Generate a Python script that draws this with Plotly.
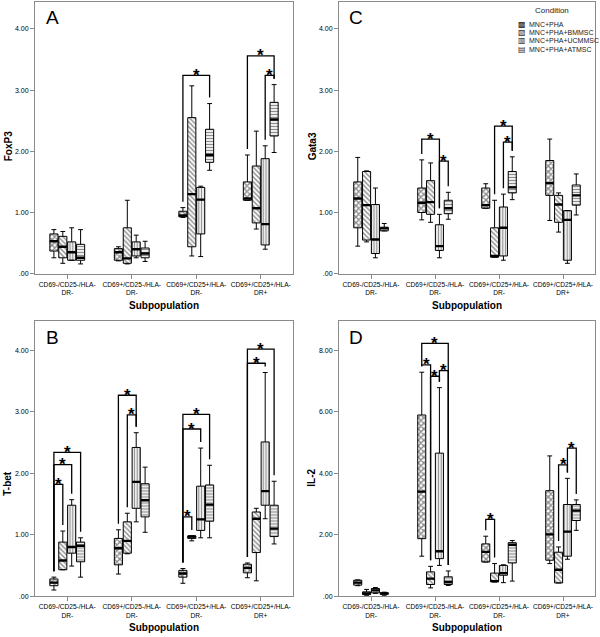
import plotly.graph_objects as go

W, H = 600, 637

SUBPOPS = ["CD69-/CD25-/HLA-<br>DR-", "CD69+/CD25-/HLA-<br>DR-",
           "CD69+/CD25+/HLA-<br>DR-", "CD69+/CD25+/HLA-<br>DR+"]
CONDITIONS = ["MNC+PHA", "MNC+PHA+BMMSC", "MNC+PHA+UCMMSC", "MNC+PHA+ATMSC"]
LEGEND_GLYPHS = ["\u25A9", "\u25A7", "\u25A5", "\u25A4"]
PATTERNS = ["x", "\\", "|", "-"]

# rows = conditions, columns = subpopulations
FOXP3_LO  = [[0.26, 0.21, 0.92, 1.20], [0.17, 0.16, 0.29, 0.73], [0.22, 0.26, 0.28, 0.40], [0.16, 0.20, 1.69, 1.98]]
FOXP3_Q1  = [[0.37, 0.22, 0.93, 1.20], [0.26, 0.17, 0.44, 0.83], [0.22, 0.29, 0.65, 0.47], [0.22, 0.26, 1.82, 2.25]]
FOXP3_MED = [[0.53, 0.35, 0.95, 1.23], [0.44, 0.25, 1.30, 1.07], [0.35, 0.40, 1.21, 0.81], [0.26, 0.33, 1.94, 2.52]]
FOXP3_Q3  = [[0.65, 0.41, 1.02, 1.50], [0.61, 0.75, 2.55, 1.76], [0.52, 0.52, 1.41, 1.88], [0.48, 0.42, 2.36, 2.80]]
FOXP3_HI  = [[0.72, 0.44, 1.08, 1.94], [0.69, 1.20, 3.07, 2.33], [0.75, 0.63, 1.43, 2.09], [0.72, 0.53, 2.78, 3.09]]

TBET_LO  = [[0.10, 0.36, 0.21, 0.30], [0.43, 0.69, 0.90, 0.25], [0.49, 1.21, 0.95, 1.26], [0.31, 1.04, 0.95, 0.85]]
TBET_Q1  = [[0.17, 0.51, 0.31, 0.38], [0.43, 0.70, 0.94, 0.71], [0.70, 1.43, 1.07, 1.48], [0.56, 1.29, 1.22, 0.97]]
TBET_MED = [[0.22, 0.78, 0.37, 0.46], [0.58, 0.90, 0.97, 1.26], [0.80, 1.86, 1.25, 1.71], [0.82, 1.56, 1.49, 1.10]]
TBET_Q3  = [[0.28, 0.94, 0.42, 0.52], [0.88, 1.21, 0.98, 1.37], [1.48, 2.42, 1.79, 2.51], [0.88, 1.83, 1.81, 1.48]]
TBET_HI  = [[0.31, 1.08, 0.45, 0.54], [1.06, 1.35, 0.98, 1.43], [1.57, 2.66, 2.41, 3.64], [0.95, 2.10, 2.13, 1.87]]

GATA3_LO  = [[0.45, 0.88, 1.07, 0.87], [0.52, 0.84, 0.27, 0.68], [0.26, 0.26, 0.22, 0.17], [0.70, 0.89, 1.21, 0.96]]
GATA3_Q1  = [[0.75, 1.00, 1.07, 1.28], [0.55, 0.97, 0.27, 0.84], [0.33, 0.38, 0.29, 0.22], [0.70, 0.98, 1.32, 1.12]]
GATA3_MED = [[1.23, 1.16, 1.12, 1.48], [1.12, 1.17, 0.29, 1.13], [0.56, 0.45, 0.75, 0.88], [0.74, 1.07, 1.41, 1.28]]
GATA3_Q3  = [[1.50, 1.40, 1.40, 1.85], [1.67, 1.52, 0.75, 1.28], [1.13, 0.80, 1.09, 1.03], [0.76, 1.20, 1.67, 1.45]]
GATA3_HI  = [[1.90, 1.86, 1.47, 2.20], [1.68, 1.81, 1.20, 1.32], [1.40, 0.97, 1.30, 1.03], [0.82, 1.33, 1.91, 1.63]]

IL2_LO  = [[0.34, 1.30, 1.11, 1.06], [0.03, 0.27, 0.46, 0.43], [0.09, 1.00, 0.44, 1.20], [0.03, 0.35, 0.49, 2.14]]
IL2_Q1  = [[0.36, 1.87, 1.11, 1.17], [0.05, 0.38, 0.47, 0.43], [0.11, 1.22, 0.68, 1.30], [0.06, 0.38, 1.08, 2.46]]
IL2_MED = [[0.44, 3.40, 1.44, 2.01], [0.09, 0.57, 0.49, 0.86], [0.19, 1.46, 0.75, 2.10], [0.09, 0.46, 1.67, 2.78]]
IL2_Q3  = [[0.52, 5.89, 1.70, 3.43], [0.14, 0.79, 0.75, 1.43], [0.25, 4.65, 1.00, 2.98], [0.11, 0.63, 1.74, 2.98]]
IL2_HI  = [[0.53, 7.28, 1.95, 4.56], [0.22, 0.97, 1.06, 1.60], [0.28, 6.78, 1.02, 3.83], [0.13, 0.82, 1.81, 3.13]]

# significance brackets: (subpopulation index, condition a, condition b, bracket height)
FOXP3_SIG = [(2, 0, 3, 3.24), (3, 0, 3, 3.56), (3, 2, 3, 3.24)]
TBET_SIG = [(0, 0, 3, 2.34), (0, 0, 2, 2.14), (0, 0, 1, 1.82), (1, 0, 2, 3.27), (1, 1, 2, 2.95),
            (2, 0, 3, 2.96), (2, 0, 2, 2.72), (2, 0, 1, 1.29), (3, 0, 3, 4.02), (3, 0, 2, 3.79)]
GATA3_SIG = [(1, 0, 2, 2.20), (1, 2, 3, 1.84), (2, 1, 3, 2.41), (2, 2, 3, 2.15)]
IL2_SIG = [(1, 0, 3, 8.22), (1, 0, 1, 7.52), (1, 1, 2, 7.15), (1, 2, 3, 7.33),
           (2, 0, 1, 2.50), (3, 1, 2, 4.27), (3, 2, 3, 4.81)]

Y_TICKS_4 = [0, 1, 2, 3, 4]
Y_TICKTEXT_4 = [".00", "1.00", "2.00", "3.00", "4.00"]
Y_TICKS_8 = [0, 2, 4, 6, 8]
Y_TICKTEXT_8 = [".00", "2.00", "4.00", "6.00", "8.00"]

FONT = "Arial, Liberation Sans, sans-serif"
STEP = 0.138      # spacing between boxes within a group (x units)
BOXW = 0.126      # box width (x units)
AXCOL = "#8a8a8a"

# panel layout in pixels: (left, right, top, bottom)
panels = [
    dict(name="A", ylabel="FoxP3", stats=(FOXP3_LO, FOXP3_Q1, FOXP3_MED, FOXP3_Q3, FOXP3_HI), sig=FOXP3_SIG,
         box=(35, 293, 2, 275), ymax=4.44, ticks=(Y_TICKS_4, Y_TICKTEXT_4), ylab_y=147, xlab_y=307),
    dict(name="C", ylabel="Gata3", stats=(GATA3_LO, GATA3_Q1, GATA3_MED, GATA3_Q3, GATA3_HI), sig=GATA3_SIG,
         box=(339, 595, 2, 275), ymax=4.44, ticks=(Y_TICKS_4, Y_TICKTEXT_4), ylab_y=147, xlab_y=307),
    dict(name="B", ylabel="T-bet", stats=(TBET_LO, TBET_Q1, TBET_MED, TBET_Q3, TBET_HI), sig=TBET_SIG,
         box=(35, 293, 323, 599), ymax=4.47, ticks=(Y_TICKS_4, Y_TICKTEXT_4), ylab_y=486, xlab_y=630),
    dict(name="D", ylabel="IL-2", stats=(IL2_LO, IL2_Q1, IL2_MED, IL2_Q3, IL2_HI), sig=IL2_SIG,
         box=(339, 595, 323, 599), ymax=8.93, ticks=(Y_TICKS_8, Y_TICKTEXT_8), ylab_y=480, xlab_y=630),
]

PAT_SIZE = [4.0, 3.4, 2.8, 3.0]
PAT_SOLID = [0.6, 0.45, 0.45, 0.45]

def px(x):
    return x / W

def py(y):
    return 1 - y / H

fig = go.Figure()
annotations = []
layout_axes = {}

for k, p in enumerate(panels):
    sfx = "" if k == 0 else str(k + 1)
    xa, ya = "x" + sfx, "y" + sfx
    l, r, t, b = p["box"]
    lo, q1, med, q3, hi = p["stats"]
    xpx_per_unit = (r - l) / 4.0
    ypx_per_unit = (b - t) / p["ymax"]
    offs = [(i - 1.5) * STEP for i in range(4)]

    for i in range(4):
        xs = [g + offs[i] for g in range(4)]
        fig.add_trace(go.Bar(
            x=xs, y=[q3[i][g] - q1[i][g] for g in range(4)], base=q1[i], width=BOXW,
            marker=dict(color="white", line=dict(width=0),
                        pattern=dict(shape=PATTERNS[i], fgcolor="#1a1a1a", bgcolor="white",
                                     size=PAT_SIZE[i], solidity=PAT_SOLID[i])),
            xaxis=xa, yaxis=ya, showlegend=False, hoverinfo="skip"))
    for i in range(4):
        xs = [g + offs[i] for g in range(4)]
        fig.add_trace(go.Box(
            x=xs, q1=q1[i], median=med[i], q3=q3[i], lowerfence=lo[i], upperfence=hi[i],
            width=BOXW, fillcolor="rgba(0,0,0,0)", line=dict(color="black", width=1),
            whiskerwidth=0.6, boxpoints=False, name=CONDITIONS[i],
            xaxis=xa, yaxis=ya, showlegend=False))
    # thick medians
    for i in range(4):
        xs = [g + offs[i] for g in range(4)]
        fig.add_trace(go.Scatter(
            x=xs, y=med[i], mode="markers",
            marker=dict(symbol="line-ew", size=BOXW * xpx_per_unit / 1.4,
                        line=dict(color="black", width=2.4)),
            xaxis=xa, yaxis=ya, showlegend=False, hoverinfo="skip"))
    # significance brackets
    gap = 6.0 / ypx_per_unit
    bx, by = [], []
    for (g, a, c, h) in p["sig"]:
        xa_ = g + offs[a]
        xc_ = g + offs[c]
        bx += [xa_, xa_, xc_, xc_, None]
        by += [hi[a][g] + gap, h, h, hi[c][g] + gap, None]
        annotations.append(dict(x=(xa_ + xc_) / 2, y=h, xref=xa, yref=ya, text="<b>*</b>",
                                showarrow=False, yanchor="middle", yshift=0,
                                font=dict(family=FONT, size=17, color="black")))
    fig.add_trace(go.Scatter(x=bx, y=by, mode="lines", line=dict(color="black", width=1.3),
                             xaxis=xa, yaxis=ya, showlegend=False, hoverinfo="skip"))

    tv, tt = p["ticks"]
    layout_axes["xaxis" + sfx] = dict(
        domain=[px(l), px(r)], anchor=ya, range=[-0.5, 3.5], tickvals=[0, 1, 2, 3], ticktext=SUBPOPS,
        tickangle=0, tickfont=dict(family=FONT, size=6.6, color="black"), showline=True, mirror=True,
        linecolor=AXCOL, linewidth=1, ticks="outside", ticklen=4, tickcolor=AXCOL,
        showgrid=False, zeroline=False, fixedrange=True)
    layout_axes["yaxis" + sfx] = dict(
        domain=[py(b), py(t)], anchor=xa, range=[0, p["ymax"]], tickvals=tv, ticktext=tt,
        tickfont=dict(family=FONT, size=7, color="black"), showline=True, mirror=True,
        linecolor=AXCOL, linewidth=1, ticks="outside", ticklen=4, tickcolor=AXCOL,
        showgrid=False, zeroline=False, fixedrange=True)

    annotations.append(dict(x=px(l + 17), y=py(t + 16), xref="paper", yref="paper", text=p["name"],
                            showarrow=False, xanchor="center", yanchor="middle",
                            font=dict(family=FONT, size=19, color="black")))
    annotations.append(dict(x=px(l - 27), y=py(p["ylab_y"]), xref="paper", yref="paper",
                            text="<b>" + p["ylabel"] + "</b>", textangle=-90, showarrow=False,
                            xanchor="center", yanchor="middle",
                            font=dict(family=FONT, size=10, color="black")))
    annotations.append(dict(x=px((l + r) / 2), y=py(p["xlab_y"]), xref="paper", yref="paper",
                            text="<b>Subpopulation</b>", showarrow=False, xanchor="center",
                            yanchor="middle", font=dict(family=FONT, size=10, color="black")))

# manual legend in panel C
annotations.append(dict(x=px(552), y=py(11), xref="paper", yref="paper", text="Condition",
                        showarrow=False, xanchor="center", yanchor="middle",
                        font=dict(family=FONT, size=8, color="#222222")))
rows_y = [24.5, 32.8, 41.1, 49.4]
for i in range(4):
    annotations.append(dict(x=px(522), y=py(rows_y[i]), xref="paper", yref="paper",
                            text=LEGEND_GLYPHS[i], showarrow=False, xanchor="center", yanchor="middle",
                            font=dict(family="DejaVu Sans", size=8, color="#222222")))
    annotations.append(dict(x=px(526.5), y=py(rows_y[i]), xref="paper", yref="paper",
                            text=CONDITIONS[i], showarrow=False, xanchor="left", yanchor="middle",
                            font=dict(family=FONT, size=7, color="#222222")))

fig.update_layout(
    width=W, height=H, autosize=False, margin=dict(l=0, r=0, t=0, b=0),
    paper_bgcolor="white", plot_bgcolor="white", barmode="overlay", boxmode="overlay",
    annotations=annotations, showlegend=False, **layout_axes)

fig.write_html("out.html", config={"displayModeBar": False},
               post_script="document.body.style.margin='0';document.body.style.overflow='hidden';")
